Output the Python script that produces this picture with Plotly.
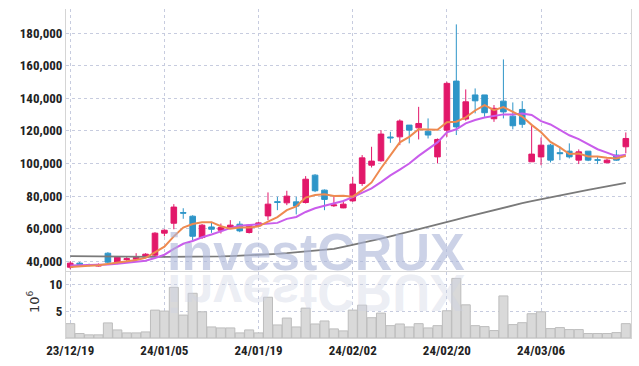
import plotly.graph_objects as go

dates = ["23/12/19", "23/12/20", "23/12/21", "23/12/22", "23/12/26", "23/12/27", "23/12/28",
         "24/01/02", "24/01/03", "24/01/04", "24/01/05", "24/01/08", "24/01/09", "24/01/10",
         "24/01/11", "24/01/12", "24/01/15", "24/01/16", "24/01/17", "24/01/18", "24/01/19",
         "24/01/22", "24/01/23", "24/01/24", "24/01/25", "24/01/26", "24/01/29", "24/01/30",
         "24/01/31", "24/02/01", "24/02/02", "24/02/05", "24/02/06", "24/02/07", "24/02/08",
         "24/02/13", "24/02/14", "24/02/15", "24/02/16", "24/02/19", "24/02/20", "24/02/21",
         "24/02/22", "24/02/23", "24/02/26", "24/02/27", "24/02/28", "24/02/29", "24/03/04",
         "24/03/05", "24/03/06", "24/03/07", "24/03/08", "24/03/11", "24/03/12", "24/03/13",
         "24/03/14", "24/03/15", "24/03/18", "24/03/19"]

opens = [36300, 38800, 37800, 37000, 44900, 39500, 41000, 41200, 42400, 43700,
         57200, 63300, 69800, 67600, 54500, 61000, 59000, 60700, 62700, 57600,
         61700, 67800, 76500, 75800, 76400, 76000, 92800, 83600, 74000, 72700,
         77000, 87700, 98900, 101600, 116200, 116300, 123500, 121800, 119800, 104000,
         120400, 150500, 127200, 142000, 142000, 127400, 138200, 129000, 133100, 101000,
         104000, 111200, 106600, 107500, 102000, 107500, 102200, 100400, 105100, 110200]
highs = [40000, 39500, 38500, 38600, 45500, 43000, 42500, 44900, 44900, 57800,
         59600, 75000, 72500, 68200, 62800, 64100, 63100, 65200, 64500, 62700,
         64100, 82200, 79500, 83200, 79500, 92200, 93400, 84000, 80500, 77500,
         91800, 105100, 110200, 120400, 119400, 127000, 123500, 134700, 127600, 115300,
         150100, 185300, 145400, 146000, 142000, 135800, 163800, 137400, 138200, 122900,
         115900, 112000, 110200, 112300, 108600, 107500, 104000, 103000, 108200, 119000]
lows = [35100, 37800, 36800, 36700, 38800, 38200, 40000, 40600, 41800, 43000,
        55300, 59600, 66000, 52900, 53700, 57400, 57000, 60300, 57800, 57000,
        61000, 65200, 71300, 74400, 68700, 75400, 82400, 71300, 73300, 72500,
        76400, 86200, 97500, 101000, 112600, 111200, 112300, 114700, 115300, 100000,
        116300, 117400, 126200, 130700, 128600, 125500, 127600, 120900, 121800, 101000,
        98900, 100600, 102000, 103000, 99600, 101400, 99600, 100400, 101600, 106200]
closes = [38800, 38000, 37500, 38000, 39400, 42400, 41500, 42400, 44300, 57200,
          59000, 73200, 69500, 55300, 62100, 59600, 60700, 62100, 58600, 62100,
          63500, 75000, 76100, 79900, 73800, 90300, 83200, 77900, 74500, 75000,
          87300, 103400, 101400, 118000, 115700, 126000, 120400, 124500, 117400, 114700,
          149100, 122400, 137800, 138400, 131100, 133800, 131600, 123100, 124000, 105700,
          111200, 102000, 106000, 104000, 107100, 102000, 102000, 102000, 102000, 115300]

# moving-average lines
ma5 = [36500, 37000, 37200, 37500, 38340, 39060, 39760, 40740, 42000, 45560,
       48880, 55220, 60640, 62840, 63820, 63940, 61440, 59960, 60620, 60620,
       61400, 64260, 67060, 71320, 73660, 79020, 80660, 81020, 79940, 80180,
       79580, 83620, 88320, 97020, 105160, 112900, 116300, 120920, 120800, 120600,
       125220, 125620, 128280, 132480, 135760, 132700, 134540, 131600, 128720, 123640,
       119120, 113200, 109780, 105780, 106060, 104220, 104220, 103420, 103020, 104660]
ma10 = [37300, 37400, 37500, 37700, 38000, 38500, 39000, 39600, 40300, 41950,
        43970, 47490, 50690, 52420, 54690, 56410, 58330, 60300, 61730, 62220,
        62670, 62850, 63510, 65970, 67140, 70210, 72460, 74040, 75630, 76920,
        79300, 82140, 84670, 88480, 92670, 96240, 99960, 104620, 108910, 112880,
        119060, 120960, 124600, 126640, 128180, 128960, 130080, 129940, 130600, 129700,
        125910, 123870, 120690, 117250, 114850, 111670, 108710, 106600, 104400, 105360]
ma60 = [43100, 43000, 42900, 42900, 42800, 42800, 42700, 42700, 42600, 42600,
        42600, 42600, 42600, 42600, 42700, 42800, 42900, 43100, 43300, 43500,
        43800, 44100, 44500, 44900, 45400, 45900, 46400, 46900, 47600, 48800,
        50000, 51300, 52600, 53900, 55300, 56700, 58100, 59500, 61000, 62500,
        64000, 65500, 67000, 68500, 70000, 71500, 72900, 74300, 75600, 76900,
        78100, 79300, 80400, 81500, 82600, 83700, 84800, 85900, 87000, 88100]
volume_m = [2.66, 0.83, 0.58, 0.58, 2.8, 1.5, 0.95, 0.95, 1.13, 5.17,
            4.99, 9.39, 4.25, 8.29, 4.86, 2.05, 1.87, 1.87, 0.95, 1.5,
            0.95, 7.56, 2.42, 3.7, 2.05, 5.54, 2.6, 3.16, 1.69, 1.32,
            5.17, 6.09, 3.76, 4.62, 2.29, 2.6, 2.05, 2.66, 1.87, 2.29,
            5.05, 11.05, 6.15, 2.29, 2.11, 1.38, 7.8, 2.48, 2.84, 4.5,
            4.86, 1.74, 1.93, 1.56, 1.56, 0.83, 0.83, 0.83, 1.0, 2.66]

price_ticks = [40000, 60000, 80000, 100000, 120000, 140000, 160000, 180000]
vol_ticks = [5, 10]
x_tick_labels = [dates[i] for i in range(0, 60, 10)]

UP = "#E2186A"
DOWN = "#2E95C8"
FONT = "Liberation Sans Narrow, Roboto Condensed, Arial Narrow, Liberation Sans, Arial, sans-serif"
TICKFONT = dict(family=FONT, size=13, color="#222222", weight="bold")

fig = go.Figure()

fig.add_trace(go.Bar(
    x=dates, y=volume_m, xaxis="x", yaxis="y2",
    marker=dict(color="#D9D9D9", line=dict(color="#BDBDBD", width=1)),
    showlegend=False, hoverinfo="skip"))

fig.add_trace(go.Candlestick(
    x=dates, open=opens, high=highs, low=lows, close=closes,
    xaxis="x", yaxis="y",
    increasing=dict(line=dict(color=UP, width=1), fillcolor=UP),
    decreasing=dict(line=dict(color=DOWN, width=1), fillcolor=DOWN),
    whiskerwidth=0, showlegend=False))

fig.add_trace(go.Scatter(x=dates, y=ma60, mode="lines", line=dict(color="#7A7A7A", width=1.8),
                         xaxis="x", yaxis="y", showlegend=False, hoverinfo="skip"))
fig.add_trace(go.Scatter(x=dates, y=ma10, mode="lines", line=dict(color="#C95DEB", width=2),
                         xaxis="x", yaxis="y", showlegend=False, hoverinfo="skip"))
fig.add_trace(go.Scatter(x=dates, y=ma5, mode="lines", line=dict(color="#EE8A50", width=2),
                         xaxis="x", yaxis="y", showlegend=False, hoverinfo="skip"))

grid = dict(showgrid=True, gridcolor="#C7CCDF", griddash="dot", gridwidth=1, automargin=False)

fig.update_layout(
    width=639, height=366,
    margin=dict(l=66, r=8, t=9, b=28, autoexpand=False),
    paper_bgcolor="white", plot_bgcolor="white",
    boxgap=0.15, bargap=0.04,
    font=dict(family=FONT, color="#222222", size=13),
    xaxis=dict(type="category", anchor="y2", range=[-0.45, 59.55],
               tickvals=x_tick_labels, ticktext=x_tick_labels, tickangle=0,
               rangeslider=dict(visible=False),
               showline=True, linecolor="#D5D5D5", mirror=True,
               ticks="", tickfont=TICKFONT, **grid),
    yaxis=dict(domain=[0.2, 1], range=[33246, 194737], tickvals=price_ticks,
               tickformat=",d", showline=True, linecolor="#D5D5D5", mirror=True,
               ticks="", zeroline=False, tickfont=TICKFONT, **grid),
    yaxis2=dict(domain=[0, 0.2], range=[0, 12.2], tickvals=vol_ticks,
                showline=True, linecolor="#D5D5D5", mirror=True,
                ticks="", zeroline=False, tickfont=TICKFONT, **grid),
    annotations=[
        dict(text="investCRUX", xref="paper", yref="paper", x=0.4425, y=0.262,
             xanchor="center", yanchor="middle", showarrow=False,
             font=dict(family="Liberation Sans, Arial, sans-serif", size=52,
                       color="rgba(172,183,216,0.62)", weight="bold")),
        dict(text="investCRUX", xref="paper", yref="paper", x=0.4425, y=0.138,
             xanchor="center", yanchor="middle", showarrow=False,
             font=dict(family="Liberation Sans, Arial, sans-serif", size=52,
                       color="rgba(205,210,228,0.4)", weight="bold")),
        dict(text="10<sup>6</sup>", xref="paper", yref="paper", x=-0.058, y=0.11,
             xanchor="center", yanchor="middle", showarrow=False, textangle=-90,
             font=dict(family="DejaVu Sans, sans-serif", size=13, color="#333333")),
    ],
)

post_js = """
document.body.style.margin = '0';
document.body.style.padding = '0';
var t = document.querySelector('g.annotation[data-index="1"] text');
if (t) { t.style.transformBox = 'fill-box'; t.style.transformOrigin = 'center'; t.style.transform = 'scaleY(-1)'; }
"""

fig.write_html("out.html", post_script=post_js, config={"displayModeBar": False})
